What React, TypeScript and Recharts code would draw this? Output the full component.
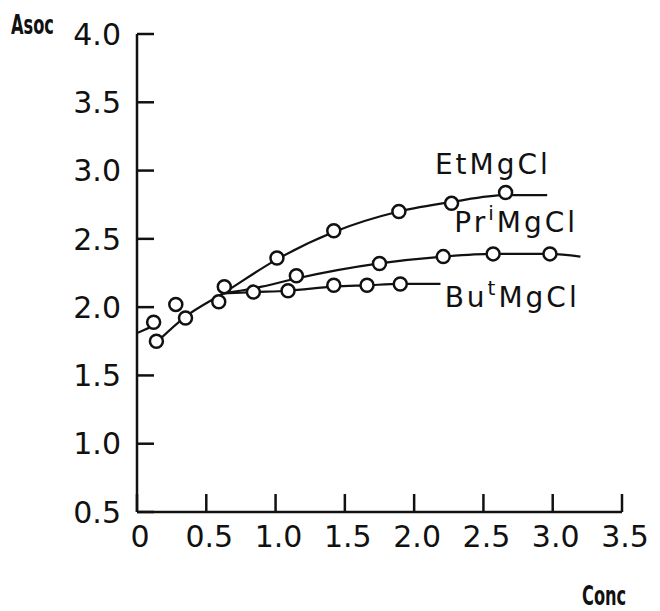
import { ComposedChart, Line, Scatter, XAxis, YAxis, ReferenceDot } from "recharts";

const xTicks = [0, 0.5, 1.0, 1.5, 2.0, 2.5, 3.0, 3.5];
const yTicks = [0.5, 1.0, 1.5, 2.0, 2.5, 3.0, 3.5, 4.0];

const etConc = [0.14, 0.35, 0.63, 1.01, 1.42, 1.89, 2.27, 2.66];
const etAsoc = [1.75, 1.92, 2.15, 2.36, 2.56, 2.7, 2.76, 2.84];
const prConc = [0.59, 1.15, 1.75, 2.21, 2.57, 2.98];
const prAsoc = [2.04, 2.23, 2.32, 2.37, 2.39, 2.39];
const buConc = [0.12, 0.28, 0.84, 1.09, 1.42, 1.66, 1.9];
const buAsoc = [1.89, 2.02, 2.11, 2.12, 2.16, 2.16, 2.17];

// hand drawn curves
const leadConc = [0, 0.09];
const leadAsoc = [1.81, 1.85];
const etCurveConc = [0.16, 0.35, 0.62, 1.01, 1.42, 1.89, 2.27, 2.66, 2.96];
const etCurveAsoc = [1.76, 1.93, 2.1, 2.35, 2.55, 2.7, 2.77, 2.82, 2.82];
const prCurveConc = [0.62, 0.9, 1.15, 1.75, 2.21, 2.57, 2.98, 3.2];
const prCurveAsoc = [2.1, 2.15, 2.21, 2.32, 2.37, 2.39, 2.39, 2.37];
const buCurveConc = [0.62, 0.84, 1.09, 1.42, 1.66, 1.9, 2.19];
const buCurveAsoc = [2.1, 2.11, 2.12, 2.15, 2.16, 2.17, 2.17];

const zip = (xs: number[], ys: number[]) => xs.map((conc, i) => ({ conc, asoc: ys[i] }));

const etPoints = zip(etConc, etAsoc);
const prPoints = zip(prConc, prAsoc);
const buPoints = zip(buConc, buAsoc);

const FONT = "'DejaVu Sans', sans-serif";
const TITLE_FONT = "'DejaVu Sans Condensed', 'DejaVu Sans', sans-serif";

const OpenCircle = (props: any) => (
  <circle cx={props.cx} cy={props.cy} r={6.5} fill="#fff" stroke="#111" strokeWidth={2.5} />
);

const seriesLabel = (base: string, sup?: string) => (props: any) => {
  const { x, y } = props.viewBox;
  return (
    <text x={x} y={y} fill="#111" fontSize={28} fontFamily={FONT} letterSpacing={3}>
      {base}
      {sup && (
        <tspan dy={-12} fontSize={20}>
          {sup}
        </tspan>
      )}
      <tspan dy={sup ? 12 : 0}>MgCl</tspan>
    </text>
  );
};

const titleStyle = (left: number, top: number) => ({
  position: "absolute" as const,
  left,
  top,
  fontFamily: TITLE_FONT,
  fontWeight: "bold" as const,
  fontSize: 20,
  color: "#111",
  transform: "scale(0.9, 1.35)",
  transformOrigin: "left top",
  lineHeight: 1,
});

export default function App() {
  return (
    <div style={{ position: "absolute", left: 0, top: 0, width: 660, height: 611, background: "#fff" }}>
      <div style={titleStyle(11, 11)}>Asoc</div>
      <div style={titleStyle(582, 582)}>Conc</div>
      <ComposedChart width={660} height={611} margin={{ top: 34, right: 38, left: 77, bottom: 69 }}>
        <XAxis
          type="number"
          dataKey="conc"
          domain={[0, 3.5]}
          ticks={xTicks}
          tickFormatter={(v) => (v === 0 ? "0" : v.toFixed(1))}
          height={30}
          stroke="#111"
          strokeWidth={2.5}
          tickSize={-18}
          tickMargin={32}
          tick={{ fill: "#111", fontSize: 30, fontFamily: FONT, dx: 3 }}
          allowDataOverflow
        />
        <YAxis
          type="number"
          dataKey="asoc"
          domain={[0.5, 4.0]}
          ticks={yTicks}
          tickFormatter={(v) => v.toFixed(1)}
          width={60}
          stroke="#111"
          strokeWidth={2.5}
          tickSize={-17}
          tickMargin={33}
          tick={{ fill: "#111", fontSize: 30, fontFamily: FONT }}
          allowDataOverflow
        />
        <Line data={zip(leadConc, leadAsoc)} dataKey="asoc" type="monotone" stroke="#111" strokeWidth={2.2} dot={false} isAnimationActive={false} />
        <Line data={zip(etCurveConc, etCurveAsoc)} dataKey="asoc" type="monotone" stroke="#111" strokeWidth={2.2} dot={false} isAnimationActive={false} />
        <Line data={zip(prCurveConc, prCurveAsoc)} dataKey="asoc" type="monotone" stroke="#111" strokeWidth={2.2} dot={false} isAnimationActive={false} />
        <Line data={zip(buCurveConc, buCurveAsoc)} dataKey="asoc" type="monotone" stroke="#111" strokeWidth={2.2} dot={false} isAnimationActive={false} />
        <Scatter data={etPoints} dataKey="asoc" shape={OpenCircle} isAnimationActive={false} />
        <Scatter data={prPoints} dataKey="asoc" shape={OpenCircle} isAnimationActive={false} />
        <Scatter data={buPoints} dataKey="asoc" shape={OpenCircle} isAnimationActive={false} />
        <ReferenceDot x={2.15} y={2.975} r={0} fill="none" stroke="none" label={seriesLabel("Et")} />
        <ReferenceDot x={2.29} y={2.55} r={0} fill="none" stroke="none" label={seriesLabel("Pr", "i")} />
        <ReferenceDot x={2.22} y={2.0} r={0} fill="none" stroke="none" label={seriesLabel("Bu", "t")} />
      </ComposedChart>
    </div>
  );
}
